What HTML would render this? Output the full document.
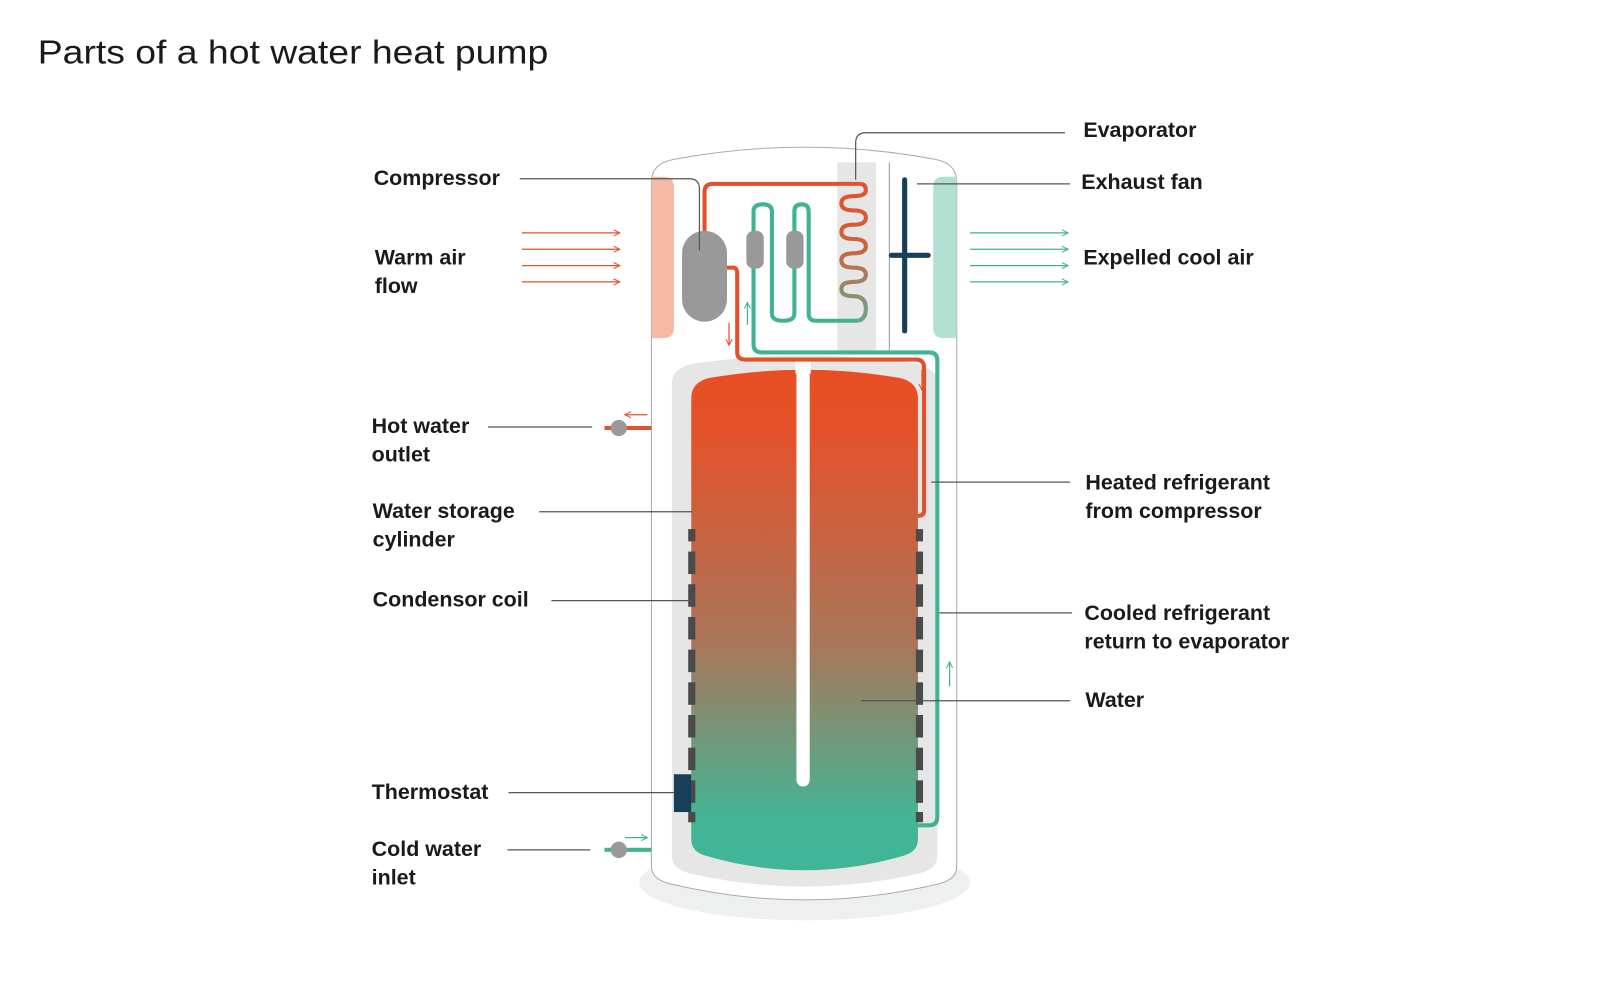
<!DOCTYPE html>
<html><head><meta charset="utf-8"><style>
html,body{margin:0;padding:0;background:#fff;width:1600px;height:1000px;overflow:hidden}
svg{display:block}
text{font-family:"Liberation Sans",sans-serif;fill:#1a1a1a}
.l{font-size:21px;font-weight:bold}
.ld{stroke:#555;stroke-width:1.2;fill:none}
</style></head><body>
<svg width="1600" height="1000" viewBox="0 0 1567 979" preserveAspectRatio="none" xmlns="http://www.w3.org/2000/svg">
<defs>
<linearGradient id="tg" x1="0" y1="0" x2="0" y2="1">
<stop offset="0" stop-color="#e84e24"/><stop offset="0.12" stop-color="#e4522a"/>
<stop offset="0.55" stop-color="#a9765a"/><stop offset="0.9" stop-color="#42b596"/><stop offset="1" stop-color="#40b597"/>
</linearGradient>
<linearGradient id="cg" x1="0" y1="0" x2="0" y2="1">
<stop offset="0" stop-color="#e3512a"/><stop offset="0.5" stop-color="#c8673e"/><stop offset="1" stop-color="#6aa68a"/>
</linearGradient>
<marker id="ar" markerWidth="8" markerHeight="8" refX="7" refY="4" orient="auto" markerUnits="userSpaceOnUse"><path d="M1,1 L7,4 L1,7" fill="none" stroke="#e3512a" stroke-width="1"/></marker>
<marker id="ag" markerWidth="8" markerHeight="8" refX="7" refY="4" orient="auto" markerUnits="userSpaceOnUse"><path d="M1,1 L7,4 L1,7" fill="none" stroke="#3fb394" stroke-width="1"/></marker>
</defs>
<text x="37" y="62" font-size="33" textLength="500" lengthAdjust="spacingAndGlyphs">Parts of a hot water heat pump</text>
<ellipse cx="788" cy="864" rx="162" ry="37" fill="#eef0f0"/>
<path d="M638,178 Q638,160 660,156 Q788,132 916,156 Q937,160 937,178 L937,848 Q937,862 916,866 Q788,896 660,866 Q638,862 638,848 Z" fill="#fff" stroke="#aaa" stroke-width="1"/>
<path d="M638,173 L650,173 Q660,173 660,183 L660,321 Q660,331 650,331 L638,331 Z" fill="#f5b9a6"/>
<path d="M937,173 L924,173 Q914,173 914,183 L914,321 Q914,331 924,331 L937,331 Z" fill="#b2e0d2"/>
<rect x="820" y="159" width="38" height="184" fill="#e6e6e6"/>
<line x1="871" y1="159" x2="871" y2="343" stroke="#999" stroke-width="1"/>
<line x1="886" y1="176" x2="886" y2="324" stroke="#173f5a" stroke-width="5" stroke-linecap="round"/>
<line x1="873" y1="250" x2="909" y2="250" stroke="#173f5a" stroke-width="5" stroke-linecap="round"/>
<path d="M658,375 Q658,360 680,356 Q788,340 896,356 Q918,360 918,375 L918,838 Q918,852 896,856 Q788,880 680,856 Q658,852 658,838 Z" fill="#e6e6e6"/>
<path d="M677,390 Q677,374 695,370 Q788,354 881,370 Q899,374 899,390 L899,822 Q899,834 884,838 Q788,866 692,838 Q677,834 677,822 Z" fill="url(#tg)"/>
<rect x="780" y="360" width="13" height="410" rx="6.5" fill="#fff"/>
<rect x="779" y="352" width="15" height="14" fill="#fff"/>
<g fill="#4a4a4a">
<rect x="674" y="518" width="7" height="12"/><rect x="674" y="540" width="7" height="22"/><rect x="674" y="572" width="7" height="22"/><rect x="674" y="604" width="7" height="22"/><rect x="674" y="636" width="7" height="22"/><rect x="674" y="668" width="7" height="22"/><rect x="674" y="700" width="7" height="22"/><rect x="674" y="732" width="7" height="22"/><rect x="674" y="764" width="7" height="22"/><rect x="674" y="795" width="7" height="10"/>
<rect x="897" y="518" width="7" height="12"/><rect x="897" y="540" width="7" height="22"/><rect x="897" y="572" width="7" height="22"/><rect x="897" y="604" width="7" height="22"/><rect x="897" y="636" width="7" height="22"/><rect x="897" y="668" width="7" height="22"/><rect x="897" y="700" width="7" height="22"/><rect x="897" y="732" width="7" height="22"/><rect x="897" y="764" width="7" height="22"/><rect x="897" y="795" width="7" height="10"/>
</g>
<rect x="660" y="758" width="17" height="37" fill="#173f5a"/>
<path d="M690,230 L690,188 Q690,180 698,180 L842,180" fill="none" stroke="#e3512a" stroke-width="4"/>
<path d="M842,180 Q848,180 848,186 Q848,192 836,192 Q824,192 824,199 Q824,206 836,206 Q848,206 848,213 Q848,220 836,220 Q824,220 824,227 Q824,234 836,234 Q848,234 848,241 Q848,248 836,248 Q824,248 824,255 Q824,262 836,262 Q848,262 848,269 Q848,276 836,276 Q824,276 824,283 Q824,290 836,290 Q848,290 848,302 Q848,314 838,314" fill="none" stroke="url(#cg)" stroke-width="4"/>
<path d="M839,314 L799,314 Q792,314 792,307 L792,207 Q792,200 785,200 Q778,200 778,207 L778,307 Q778,314 767,314 Q756,314 756,307 L756,207 Q756,200 747,200 Q738,200 738,207 L738,337 Q738,345 746,345 L910,345 Q918,345 918,353 L918,800 Q918,808 910,808 L899,808" fill="none" stroke="#3fb394" stroke-width="4"/>
<path d="M712,262 L718,262 Q722,262 722,268 L722,345 Q722,352 730,352 L897,352 Q905,352 905,360 L905,500 Q905,505 899,505" fill="none" stroke="#e3512a" stroke-width="4"/>
<rect x="668" y="226" width="44" height="89" rx="22" fill="#999"/>
<rect x="731" y="226" width="17" height="37" rx="7" fill="#999"/>
<rect x="770" y="226" width="17" height="37" rx="7" fill="#999"/>
<line x1="714" y1="316" x2="714" y2="338" stroke="#e3512a" stroke-width="1.2" marker-end="url(#ar)"/>
<line x1="732" y1="318" x2="732" y2="296" stroke="#3fb394" stroke-width="1.2" marker-end="url(#ag)"/>
<line x1="903" y1="362" x2="903" y2="382" stroke="#e3512a" stroke-width="1.2" marker-end="url(#ar)"/>
<line x1="930" y1="672" x2="930" y2="648" stroke="#3fb394" stroke-width="1.2" marker-end="url(#ag)"/>
<line x1="592" y1="419" x2="638" y2="419" stroke="#e3512a" stroke-width="4"/>
<circle cx="606" cy="419" r="8" fill="#999"/>
<line x1="634" y1="406" x2="612" y2="406" stroke="#e3512a" stroke-width="1.2" marker-end="url(#ar)"/>
<line x1="592" y1="832" x2="638" y2="832" stroke="#3fb394" stroke-width="4"/>
<circle cx="606" cy="832" r="8" fill="#999"/>
<line x1="612" y1="820" x2="634" y2="820" stroke="#3fb394" stroke-width="1.2" marker-end="url(#ag)"/>
<g stroke="#e3512a" stroke-width="1.2">
<line x1="511" y1="228" x2="607" y2="228" marker-end="url(#ar)"/><line x1="511" y1="244" x2="607" y2="244" marker-end="url(#ar)"/><line x1="511" y1="260" x2="607" y2="260" marker-end="url(#ar)"/><line x1="511" y1="276" x2="607" y2="276" marker-end="url(#ar)"/>
</g>
<g stroke="#3fb394" stroke-width="1.2">
<line x1="950" y1="228" x2="1046" y2="228" marker-end="url(#ag)"/><line x1="950" y1="244" x2="1046" y2="244" marker-end="url(#ag)"/><line x1="950" y1="260" x2="1046" y2="260" marker-end="url(#ag)"/><line x1="950" y1="276" x2="1046" y2="276" marker-end="url(#ag)"/>
</g>
<path class="ld" d="M509,175 L675,175 Q685,175 685,185 L685,245"/>
<path class="ld" d="M1043,130 L848,130 Q838,130 838,140 L838,176"/>
<path class="ld" d="M1048,180 L898,180"/>
<path class="ld" d="M478,418 L580,418"/>
<path class="ld" d="M528,501 L678,501"/>
<path class="ld" d="M540,588 L677,588"/>
<path class="ld" d="M498,776 L660,776"/>
<path class="ld" d="M497,832 L578,832"/>
<path class="ld" d="M1048,472 L912,472"/>
<path class="ld" d="M1050,600 L920,600"/>
<path class="ld" d="M1048,686 L843,686"/>
<g>
<text class="l" x="366" y="181">Compressor</text>
<text class="l" x="367" y="259">Warm air</text><text class="l" x="367" y="287">flow</text>
<text class="l" x="364" y="424">Hot water</text><text class="l" x="364" y="452">outlet</text>
<text class="l" x="365" y="507">Water storage</text><text class="l" x="365" y="535">cylinder</text>
<text class="l" x="365" y="594">Condensor coil</text>
<text class="l" x="364" y="782">Thermostat</text>
<text class="l" x="364" y="838">Cold water</text><text class="l" x="364" y="866">inlet</text>
<text class="l" x="1061" y="134">Evaporator</text>
<text class="l" x="1059" y="185">Exhaust fan</text>
<text class="l" x="1061" y="259">Expelled cool air</text>
<text class="l" x="1063" y="479">Heated refrigerant</text><text class="l" x="1063" y="507">from compressor</text>
<text class="l" x="1062" y="607">Cooled refrigerant</text><text class="l" x="1062" y="635">return to evaporator</text>
<text class="l" x="1063" y="692">Water</text>
</g>
</svg>
</body></html>
